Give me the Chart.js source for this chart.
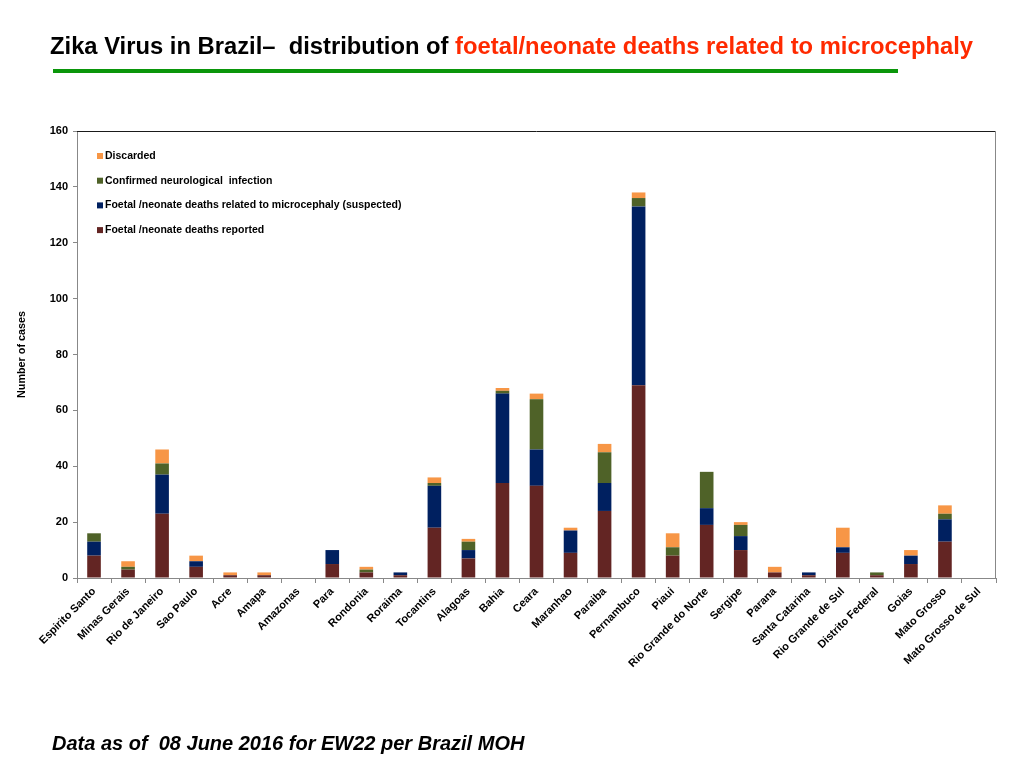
<!DOCTYPE html>
<html>
<head>
<meta charset="utf-8">
<script src="https://cdn.jsdelivr.net/npm/chart.js@4.4.1/dist/chart.umd.min.js"></script>
<style>
  html, body { margin: 0; padding: 0; background: #fff; }
  #wrap { position: relative; width: 1024px; height: 768px; }
</style>
</head>
<body>
<div id="wrap"><canvas id="graficoZika"></canvas></div>
<script>
// ---------------------------------------------------------------------------
// Dados
// ---------------------------------------------------------------------------
const estados = [
  "Espirito Santo", "Minas Gerais", "Rio de Janeiro", "Sao Paulo", "Acre",
  "Amapa", "Amazonas", "Para", "Rondonia", "Roraima", "Tocantins", "Alagoas",
  "Bahia", "Ceara", "Maranhao", "Paraiba", "Pernambuco", "Piaui",
  "Rio Grande do Norte", "Sergipe", "Parana", "Santa Catarina",
  "Rio Grande de Sul", "Distrito Federal", "Goias", "Mato Grosso",
  "Mato Grosso de Sul"
];

const obitosReportados  = [8, 3, 23, 4, 1, 1, 0, 5, 2, 1, 18, 7, 34, 33, 9, 24, 69, 8, 19, 10, 2, 1, 9, 1, 5, 13, 0];
const obitosSuspeitos   = [5, 0, 14, 2, 0, 0, 0, 5, 0, 1, 15, 3, 32, 13, 8, 10, 64, 0, 6, 5, 0, 1, 2, 0, 3, 8, 0];
const infeccaoConfirmada = [3, 1, 4, 0, 0, 0, 0, 0, 1, 0, 1, 3, 1, 18, 0, 11, 3, 3, 13, 4, 0, 0, 0, 1, 0, 2, 0];
const descartados       = [0, 2, 5, 2, 1, 1, 0, 0, 1, 0, 2, 1, 1, 2, 1, 3, 2, 5, 0, 1, 2, 0, 7, 0, 2, 3, 0];

const nomesSeries = [
  "Foetal /neonate deaths reported",
  "Foetal /neonate deaths related to microcephaly (suspected)",
  "Confirmed neurological  infection",
  "Discarded"
];

const tituloPreto = "Zika Virus in Brazil\u2013  distribution of ";
const tituloVermelho = "foetal/neonate deaths related to microcephaly";
const rodape = "Data as of  08 June 2016 for EW22 per Brazil MOH";

// ---------------------------------------------------------------------------
// Título, legenda, moldura e rodapé
// ---------------------------------------------------------------------------
const desenhoExtra = {
  id: "desenhoExtra",
  afterDraw(chart) {
    const ctx = chart.ctx;
    const area = chart.chartArea;
    ctx.save();

    // moldura superior e direita
    ctx.lineWidth = 1;
    ctx.strokeStyle = "#1a1a1a";
    ctx.beginPath();
    ctx.moveTo(area.left, area.top + 0.5);
    ctx.lineTo(area.right, area.top + 0.5);
    ctx.stroke();
    ctx.strokeStyle = "#888";
    ctx.beginPath();
    ctx.moveTo(area.right - 0.5, area.top);
    ctx.lineTo(area.right - 0.5, area.bottom);
    ctx.stroke();

    // legenda (ordem invertida)
    const itens = chart.data.datasets.slice().reverse();
    ctx.font = "bold 10.5px 'Liberation Sans', Arial, sans-serif";
    ctx.textBaseline = "middle";
    ctx.textAlign = "left";
    itens.forEach((ds, i) => {
      const y = 156 + i * 24.7;
      ctx.fillStyle = ds.backgroundColor;
      ctx.fillRect(97, y - 3, 6, 6);
      ctx.fillStyle = "#000";
      ctx.fillText(ds.label, 105, y);
    });

    // título (fonte mais alta, comprimida na largura)
    ctx.font = "bold 23px 'Liberation Sans', Arial, sans-serif";
    ctx.textBaseline = "alphabetic";
    const w1 = ctx.measureText(tituloPreto).width;
    const w2 = ctx.measureText(tituloVermelho).width;
    const escala = 923 / (w1 + w2);
    ctx.save();
    ctx.translate(50, 54);
    ctx.scale(escala, 1);
    ctx.fillStyle = "#000";
    ctx.fillText(tituloPreto, 0, 0);
    ctx.fillStyle = "#FF2A00";
    ctx.fillText(tituloVermelho, w1, 0);
    ctx.restore();

    // linha verde
    ctx.fillStyle = "#0A960A";
    ctx.fillRect(53, 69, 845, 4);

    // rodapé
    ctx.font = "italic bold 20px 'Liberation Sans', Arial, sans-serif";
    ctx.fillStyle = "#000";
    ctx.fillText(rodape, 52, 750);

    ctx.restore();
  }
};

// ---------------------------------------------------------------------------
// Gráfico
// ---------------------------------------------------------------------------
const cores = ["#632523", "#002060", "#4F6228", "#F79646"];
const series = [obitosReportados, obitosSuspeitos, infeccaoConfirmada, descartados];

const ctx = document.getElementById("graficoZika").getContext("2d");

new Chart(ctx, {
  type: "bar",
  data: {
    labels: estados,
    datasets: series.map((valores, i) => ({
      label: nomesSeries[i],
      data: valores,
      backgroundColor: cores[i],
      borderWidth: 0,
      barPercentage: 0.4,
      categoryPercentage: 1
    }))
  },
  options: {
    responsive: true,
    maintainAspectRatio: false,
    animation: false,
    devicePixelRatio: 1,
    layout: { padding: { top: 131, right: 28, left: 0, bottom: 0 } },
    plugins: {
      legend: { display: false },
      tooltip: { enabled: false }
    },
    scales: {
      x: {
        stacked: true,
        afterFit: (s) => { s.height = 190; },
        grid: { offset: true, drawOnChartArea: false, tickLength: 5, color: "#888" },
        border: { color: "#888" },
        ticks: {
          autoSkip: false,
          maxRotation: 45,
          minRotation: 45,
          padding: 2,
          color: "#000",
          font: { family: "'Liberation Sans', Arial, sans-serif", size: 11, weight: "bold" }
        }
      },
      y: {
        stacked: true,
        min: 0,
        max: 160,
        afterFit: (s) => { s.width = 77; },
        grid: { drawOnChartArea: false, tickLength: 4, color: "#888" },
        border: { color: "#888" },
        ticks: {
          stepSize: 20,
          padding: 5,
          color: "#000",
          font: { family: "'Liberation Sans', Arial, sans-serif", size: 11, weight: "bold" }
        },
        title: {
          display: true,
          text: "Number of cases",
          color: "#000",
          padding: { top: 16, bottom: 0 },
          font: { family: "'Liberation Sans', Arial, sans-serif", size: 10.8, weight: "bold" }
        }
      }
    }
  },
  plugins: [desenhoExtra]
});
</script>
</body>
</html>
